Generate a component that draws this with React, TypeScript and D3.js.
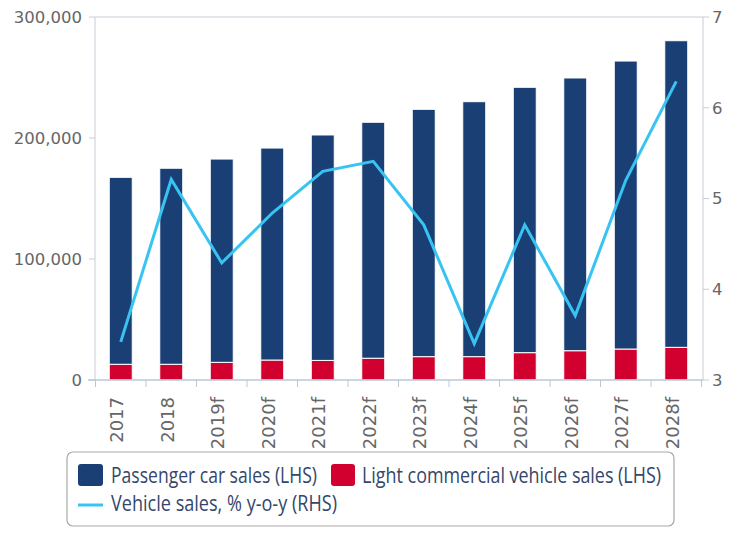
import React from "react";
import * as d3 from "d3";

const categories = ["2017", "2018", "2019f", "2020f", "2021f", "2022f", "2023f", "2024f", "2025f", "2026f", "2027f", "2028f"];
const passengerCars = [154500, 162000, 168000, 175200, 186300, 195000, 204400, 210700, 219300, 225400, 238000, 253400];
const lightCommercial = [13000, 13000, 14600, 16500, 16200, 18000, 19300, 19300, 22600, 24200, 25600, 27000];
const salesGrowth = [3.42, 5.21, 4.29, 4.84, 5.30, 5.41, 4.71, 3.40, 4.71, 3.71, 5.20, 6.29];
const leftTicks = [0, 100000, 200000, 300000];
const rightTicks = [3, 4, 5, 6, 7];

const W = 740;
const H = 555;
const L = 95;
const R = 703;
const T = 17;
const B = 380;

const navy = "#193f74";
const red = "#d2002f";
const cyan = "#38c4f2";
const gray = "#666666";
const legendText = "#34466b";

export default function App() {
  const x = d3.scaleBand<string>().domain(categories).range([95.5, 701.5]).paddingInner(0.545).paddingOuter(0.2725);
  const yL = d3.scaleLinear().domain([0, 300000]).range([B, T]);
  const yR = d3.scaleLinear().domain([3, 7]).range([B, T]);
  const bw = x.bandwidth();
  const fmt = d3.format(",");
  const step = x.step();
  const cx = (c: string) => (x(c) as number) + bw / 2;
  const line = d3
    .line<number>()
    .x((_, i) => cx(categories[i]))
    .y((d) => yR(d));
  const boundaries = d3.range(categories.length + 1).map((i) => 95.5 + i * step);

  return (
    <svg width={W} height={H} style={{ position: "absolute", left: 0, top: 0, background: "#fff" }}>
      <rect x={0} y={0} width={W} height={H} fill="#fff" />
      {/* frame */}
      <line x1={L} x2={R} y1={T} y2={T} stroke="#c8ccd6" strokeWidth={1} />
      <line x1={L} x2={L} y1={T} y2={B} stroke="#c8ccd6" strokeWidth={1} />
      <line x1={R} x2={R} y1={T} y2={B} stroke="#c8ccd6" strokeWidth={1} />
      {/* left ticks */}
      {leftTicks.map((t) => (
        <g key={"l" + t}>
          <line x1={89} x2={L} y1={yL(t)} y2={yL(t)} stroke="#c8ccd6" />
          <text x={82} y={yL(t)} dy="0.36em" textAnchor="end" fontFamily="DejaVu Sans" fontSize={16.5} fill={gray}>
            {fmt(t)}
          </text>
        </g>
      ))}
      {/* right ticks */}
      {rightTicks.map((t) => (
        <g key={"r" + t}>
          <line x1={R} x2={R + 6} y1={yR(t)} y2={yR(t)} stroke="#c8ccd6" />
          <text x={712} y={yR(t)} dy="0.36em" textAnchor="start" fontFamily="DejaVu Sans" fontSize={16.5} fill={gray}>
            {t}
          </text>
        </g>
      ))}
      {/* bars */}
      {categories.map((c, i) => {
        const x0 = x(c) as number;
        const lc = lightCommercial[i];
        const pc = passengerCars[i];
        return (
          <g key={c}>
            <rect x={x0} y={yL(lc)} width={bw} height={yL(0) - yL(lc)} fill={red} stroke="#fff" strokeWidth={1} />
            <rect x={x0} y={yL(lc + pc)} width={bw} height={yL(lc) - yL(lc + pc)} fill={navy} stroke="#fff" strokeWidth={1} />
          </g>
        );
      })}
      {/* bottom axis */}
      <line x1={88} x2={R} y1={B} y2={B} stroke="#b8c8d8" strokeWidth={1.5} />
      {boundaries.map((b, i) => (
        <line key={"b" + i} x1={b} x2={b} y1={B} y2={B + 7} stroke="#b8c8d8" />
      ))}
      {categories.map((c) => (
        <text
          key={"t" + c}
          transform={`translate(${cx(c) + 2.5},397) rotate(-90)`}
          textAnchor="end"
          fontFamily="DejaVu Sans"
          fontSize={18}
          fill={gray}
        >
          {c}
        </text>
      ))}
      {/* line */}
      <path d={line(salesGrowth) || ""} fill="none" stroke={cyan} strokeWidth={3} strokeLinejoin="miter" />
      {/* legend */}
      <rect x={67} y={452} width={607} height={74} rx={6} fill="#fff" stroke="#a8a8a8" strokeWidth={1.2} />
      <rect x={78} y={464} width={25} height={22} rx={3} fill={navy} />
      <text x={111} y={483} fontFamily="Open Sans" fontSize={21} fill={legendText} textLength={206} lengthAdjust="spacingAndGlyphs">
        Passenger car sales (LHS)
      </text>
      <rect x={331} y={464} width={24} height={22} rx={3} fill={red} />
      <text x={362} y={483} fontFamily="Open Sans" fontSize={21} fill={legendText} textLength={299} lengthAdjust="spacingAndGlyphs">
        Light commercial vehicle sales (LHS)
      </text>
      <line x1={78} x2={103} y1={505} y2={505} stroke={cyan} strokeWidth={3} />
      <text x={111} y={511} fontFamily="Open Sans" fontSize={21} fill={legendText} textLength={226} lengthAdjust="spacingAndGlyphs">
        Vehicle sales, % y-o-y (RHS)
      </text>
    </svg>
  );
}
